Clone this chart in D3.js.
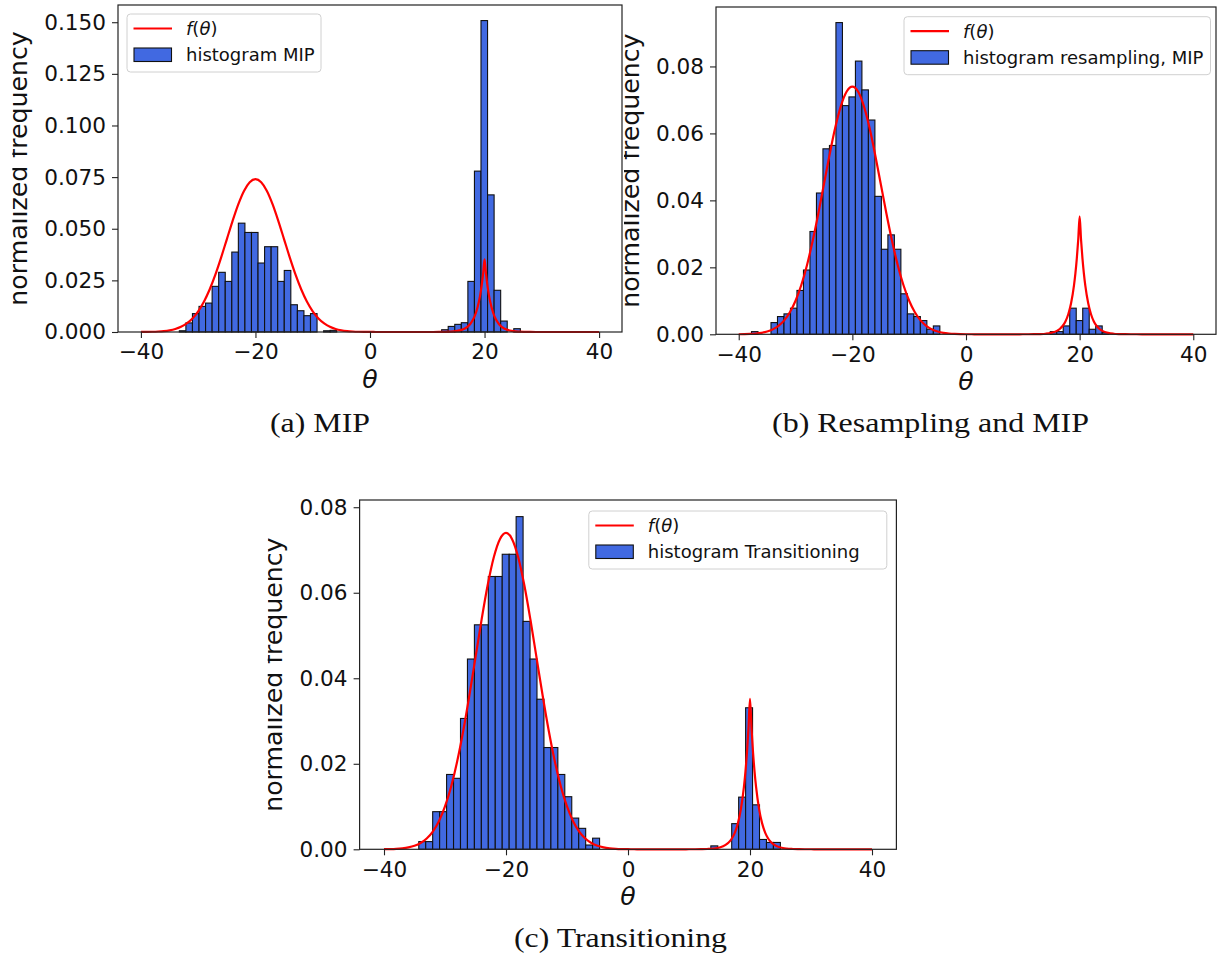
<!DOCTYPE html>
<html><head><meta charset="utf-8">
<script src="https://cdn.jsdelivr.net/npm/d3@7"></script>
<style>
body{margin:0;background:#fff;}
svg{display:block;}
text{font-family:"DejaVu Sans",sans-serif;}
</style></head><body>
<svg id="fig" width="1220" height="954"></svg>
<script>
// ---------------- data ----------------
const xTicks = [-40, -20, 0, 20, 40];
const yTicksA = [0, 0.025, 0.05, 0.075, 0.1, 0.125, 0.15];
const yTicksBC = [0, 0.02, 0.04, 0.06, 0.08];

// target density f(theta)
const curveTheta = [-40,-39,-38,-37,-36,-35,-34,-33,-32,-31,-30,-29,-28,-27,-26,-25,-24,-23,-22,-21,-20,-19,-18,-17,-16,-15,-14,-13,-12,-11,-10,-9,-8,-7,-6,-5,-4,-3,-2,-1,
  0,1,2,3,4,5,6,7,8,9,10,11,12,13,14,15,16,
  16.5,17,17.5,18,18.5,19,19.25,19.5,19.75,20,20.25,20.5,20.75,21,21.5,22,22.5,23,23.5,24,
  25,26,27,28,29,30,31,32,33,34,35,36,37,38,39,40];
const curveF = [0.00002,0.00005,0.00011,0.00023,0.00044,0.00082,0.00147,0.00252,0.00415,0.00658,0.01002,0.01464,0.02057,0.02777,0.03602,0.04488,0.05373,0.06181,0.06831,0.07253,0.07400,0.07253,0.06831,0.06181,0.05373,0.04488,0.03602,0.02777,0.02057,0.01464,0.01002,0.00658,0.00415,0.00252,0.00147,0.00082,0.00044,0.00023,0.00011,0.00005,
  0.00002,0.00001,0,0,0,0,0,0,0,0,0.00001,0.00001,0.00003,0.00007,0.00017,0.00042,0.00102,
  0.00159,0.00247,0.00385,0.00600,0.00933,0.01453,0.01812,0.02261,0.02822,0.03520,0.02822,0.02261,0.01812,0.01453,0.00933,0.00600,0.00385,0.00247,0.00159,0.00102,
  0.00042,0.00017,0.00007,0.00003,0.00001,0.00001,0,0,0,0,0,0,0,0,0,0];

// (a) MIP histogram
const binStartA = -33.29, binWidthA = 1.145;
const histA = [0.0006,0.0044,0.0089,0.0124,0.0140,0.0221,0.0289,0.0245,0.0387,0.0527,0.0482,0.0482,0.0334,0.0413,0.0413,0.0245,0.0298,0.0132,0.0103,0.0079,0.0089,0,0.0006,0.0008,
  0,0,0,0,0,0,0,0,0,0,0,0,0,0,0,0,
  0.0011,0.0027,0.0037,0.0045,0.0245,0.0779,0.1508,0.0664,0.0202,0.0053,0,0.0016];

// (b) Resampling and MIP histogram
const binStartB = -37.75, binWidthB = 1.143;
const histB = [0.0008,0,0,0.0035,0.0053,0.0061,0.0078,0.0131,0.0192,0.0307,0.0422,0.0554,0.0564,0.0931,0.0683,0.0709,0.0816,0.0730,0.0640,0.0412,0.0254,0.0297,0.0254,0.0121,0.0061,0.0053,0.0041,0.0015,0.0025,
  0,0,0,0,0,0,0,0,0,0,0,0,0,0,0,0,0,
  0.0008,0.0008,0.0025,0.0078,0.0041,0.0078,0.0015,0.0025,0.0005];

// (c) Transitioning histogram
const binStartC = -34.3, binWidthC = 1.14;
const histC = [0.0018,0.0018,0.0088,0.0088,0.0175,0.0166,0.0306,0.0445,0.0525,0.0525,0.0638,0.0638,0.0690,0.0690,0.0778,0.0533,0.0445,0.0351,0.0238,0.0238,0.0175,0.0123,0.0073,0.0049,0.0010,0.0026,
  0,0,0,0,0,0,0,0,0,0,0,0,0,0,0,0,
  0.0008,0,0,0.0060,0.0122,0.0331,0.0104,0.0023,0.0016,0.0016];

const legendLine = "f(θ)";
const captions = ["(a) MIP", "(b) Resampling and MIP", "(c) Transitioning"];
const histLabels = ["histogram MIP", "histogram resampling, MIP", "histogram Transitioning"];

// ---------------- layout ----------------
const panels = [
  {hist: histA, start: binStartA, width: binWidthA, yTicks: yTicksA, fmt: ".3f",
   left: 118, right: 622, top: 5, bottom: 332,
   leg: {x: 127, y: 14, w: 194, h: 58}, label: histLabels[0],
   cap: captions[0], capX: 320, capY: 432, capLen: 100, ylabX: 27},
  {hist: histB, start: binStartB, width: binWidthB, yTicks: yTicksBC, fmt: ".2f",
   left: 716, right: 1216, top: 7, bottom: 334.3,
   leg: {x: 904, y: 16.7, w: 306.5, h: 58}, label: histLabels[1],
   cap: captions[1], capX: 930.5, capY: 432, capLen: 317, ylabX: 638.7},
  {hist: histC, start: binStartC, width: binWidthC, yTicks: yTicksBC, fmt: ".2f",
   left: 359.6, right: 896.4, top: 500, bottom: 849.3,
   leg: {x: 588.8, y: 511, w: 298, h: 58}, label: histLabels[2],
   cap: captions[2], capX: 620.5, capY: 947, capLen: 213, ylabX: 282.3}
];

const svg = d3.select("#fig");
svg.append("rect").attr("width", 1220).attr("height", 954).attr("fill", "#fff");
const defs = svg.append("defs");

panels.forEach((p, idx) => {
  const x = d3.scaleLinear().domain([-44, 44]).range([p.left, p.right]);
  const ymax = d3.max(p.hist) * 1.05;
  const y = d3.scaleLinear().domain([0, ymax]).range([p.bottom, p.top]);
  const g = svg.append("g");

  // bars
  const bins = p.hist.map((v, i) => ({x0: p.start + i * p.width, x1: p.start + (i + 1) * p.width, v}))
                     .filter(d => d.v > 0);
  g.append("g").selectAll("rect").data(bins).join("rect")
    .attr("x", d => x(d.x0)).attr("width", d => x(d.x1) - x(d.x0))
    .attr("y", d => y(d.v)).attr("height", d => y(0) - y(d.v))
    .attr("fill", "#4169e1").attr("stroke", "#111").attr("stroke-width", 1.1);

  // curve
  const pts = curveTheta.map((t, i) => [t, curveF[i]]);
  g.append("path").datum(pts)
    .attr("d", d3.line().x(d => x(d[0])).y(d => y(d[1])).curve(d3.curveMonotoneX))
    .attr("fill", "none").attr("stroke", "#ff0000").attr("stroke-width", 2.2);

  // axes
  const xAxis = d3.axisBottom(x).tickValues(xTicks).tickSize(6).tickPadding(6).tickFormat(d3.format("d"));
  const yAxis = d3.axisLeft(y).tickValues(p.yTicks).tickSize(6).tickPadding(6).tickFormat(d3.format(p.fmt));
  const gx = g.append("g").attr("transform", `translate(0,${p.bottom})`).call(xAxis);
  const gy = g.append("g").attr("transform", `translate(${p.left},0)`).call(yAxis);
  [gx, gy].forEach(a => {
    a.select(".domain").remove();
    a.selectAll(".tick line").attr("stroke", "#222").attr("stroke-width", 1.1);
    a.selectAll(".tick text").attr("fill", "#111").style("font-size", "21.6px")
      .style("font-family", '"DejaVu Sans", sans-serif');
  });

  // frame
  g.append("rect").attr("x", p.left).attr("y", p.top)
    .attr("width", p.right - p.left).attr("height", p.bottom - p.top)
    .attr("fill", "none").attr("stroke", "#222").attr("stroke-width", 1.2);

  // x label
  g.append("text").attr("x", (p.left + p.right) / 2).attr("y", p.bottom + 55.5)
    .attr("text-anchor", "middle").style("font-size", "25.2px").style("font-style", "italic")
    .attr("fill", "#111").text("θ");

  // y label (clipped as in the source)
  const cid = "ylclip" + idx;
  defs.append("clipPath").attr("id", cid).append("rect")
    .attr("x", p.ylabX - 14.6).attr("y", 0).attr("width", 40).attr("height", 954);
  g.append("g").attr("clip-path", `url(#${cid})`)
    .append("text")
    .attr("transform", `translate(${p.ylabX},${(p.top + p.bottom) / 2}) rotate(-90)`)
    .attr("text-anchor", "middle").style("font-size", "25.2px").attr("fill", "#111")
    .text("normalized frequency");

  // legend
  const L = p.leg;
  const lg = g.append("g");
  lg.append("rect").attr("x", L.x).attr("y", L.y).attr("width", L.w).attr("height", L.h)
    .attr("rx", 3.5).attr("fill", "#fff").attr("fill-opacity", 0.8)
    .attr("stroke", "#d0d0d0").attr("stroke-width", 1);
  lg.append("line").attr("x1", L.x + 6.5).attr("x2", L.x + 45).attr("y1", L.y + 14.5).attr("y2", L.y + 14.5)
    .attr("stroke", "#ff0000").attr("stroke-width", 2.2);
  lg.append("rect").attr("x", L.x + 7).attr("y", L.y + 34).attr("width", 37.5).attr("height", 13.5)
    .attr("fill", "#4169e1").attr("stroke", "#111").attr("stroke-width", 1.1);
  const t1 = lg.append("text").attr("x", L.x + 59).attr("y", L.y + 15).attr("dy", "0.35em")
    .style("font-size", "18px").attr("fill", "#111");
  t1.append("tspan").style("font-style", "italic").text(legendLine[0]);
  t1.append("tspan").text(legendLine[1]);
  t1.append("tspan").style("font-style", "italic").text(legendLine[2]);
  t1.append("tspan").text(legendLine[3]);
  lg.append("text").attr("x", L.x + 59).attr("y", L.y + 40.5).attr("dy", "0.35em")
    .style("font-size", "18px").attr("fill", "#111").text(p.label);

  // caption
  svg.append("text").attr("x", p.capX).attr("y", p.capY).attr("text-anchor", "middle")
    .style("font-family", '"Liberation Serif", serif').style("font-size", "28px")
    .attr("fill", "#111")
    .attr("textLength", p.capLen).attr("lengthAdjust", "spacingAndGlyphs")
    .text(p.cap);
});
</script>
</body></html>
